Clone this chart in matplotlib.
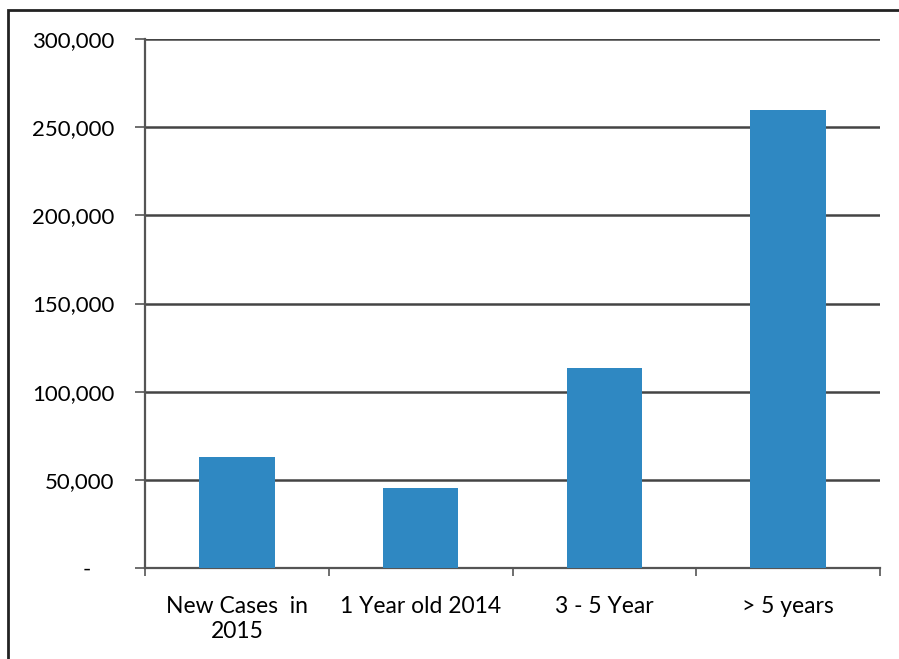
import matplotlib.pyplot as plt
from matplotlib.ticker import FuncFormatter
from matplotlib.patches import Rectangle

categories = ['New Cases  in\n2015', '1 Year old 2014', '3 - 5 Year', '> 5 years']
values = [63000, 45500, 113500, 259500]
y_ticks = [0, 50000, 100000, 150000, 200000, 250000, 300000]

plt.rcParams['font.family'] = ['Lato', 'DejaVu Sans']

fig = plt.figure(figsize=(8.99, 6.59), dpi=100)
ax = fig.add_axes([0.1613, 0.1381, 0.8176, 0.8027])

x = list(range(len(categories)))
ax.bar(x, values, width=0.41, color='#2F88C2', zorder=3)

ax.set_xlim(-0.5, len(categories) - 0.5)
ax.set_ylim(0, 300000)
ax.set_yticks(y_ticks)
# accounting style: zero shown as a dash, set in from the right
ax.yaxis.set_major_formatter(FuncFormatter(lambda v, p: '-    ' if v == 0 else f'{int(v):,}'))
ax.grid(axis='y', color='#444444', linewidth=1.8, zorder=1)

# category ticks sit on the boundaries, labels in the middle
ax.set_xticks([i - 0.5 for i in range(len(categories) + 1)])
ax.set_xticklabels([])
ax.set_xticks(x, minor=True)
ax.set_xticklabels(categories, minor=True, fontsize=16.5, linespacing=1.25)
ax.tick_params(axis='x', which='minor', length=0, pad=20)
ax.tick_params(axis='x', which='major', length=6, width=1.2, color='#555555')
ax.tick_params(axis='y', length=7, width=1.2, color='#555555', labelsize=16, pad=15)

for side in ['top', 'right']:
    ax.spines[side].set_visible(False)
ax.spines['left'].set_color('#555555')
ax.spines['left'].set_linewidth(1.6)
ax.spines['bottom'].set_color('#555555')
ax.spines['bottom'].set_linewidth(1.6)

# outer frame of the chart area
fig.patches.append(Rectangle((8 / 899, -0.05), 1.0, 1 - 10 / 659 + 0.05,
                             transform=fig.transFigure, fill=False,
                             edgecolor='#222222', linewidth=2))

fig.savefig('out.png', dpi=100)
